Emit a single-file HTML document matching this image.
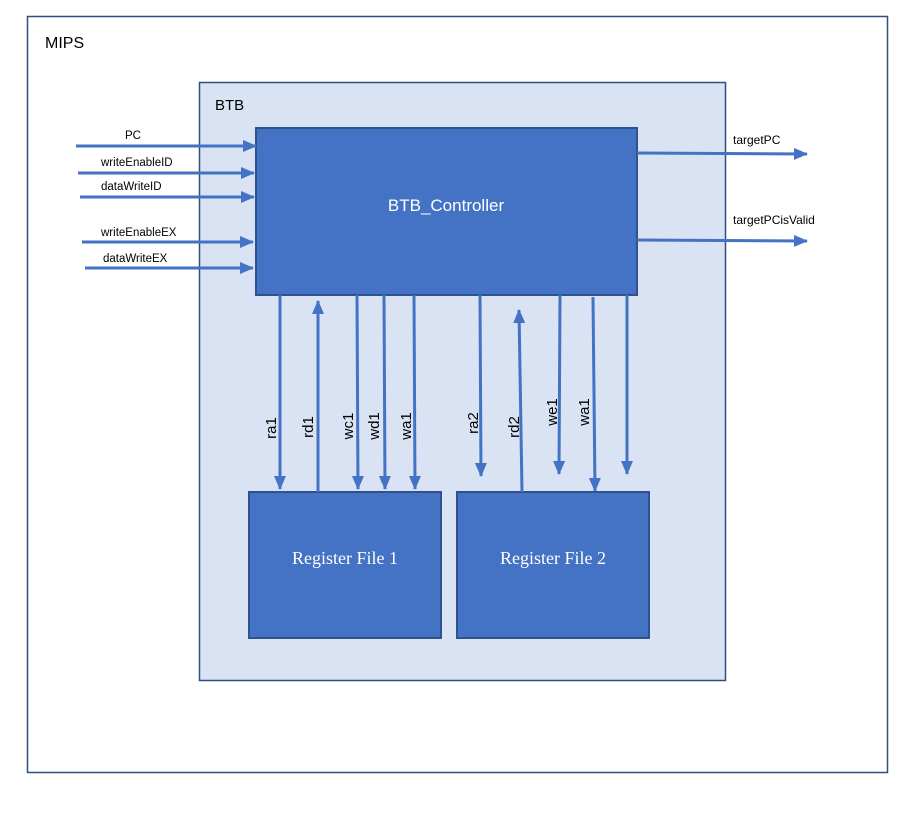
<!DOCTYPE html>
<html><head><style>body{margin:0;background:#fff}</style></head><body>
<svg width="906" height="809" xmlns="http://www.w3.org/2000/svg" font-family="Liberation Sans, sans-serif">
<defs><marker id="a" markerWidth="14" markerHeight="12" refX="13" refY="6" orient="auto" markerUnits="userSpaceOnUse"><path d="M0,0 L14,6 L0,12z" fill="#4472c4"/></marker></defs>
<rect x="27.5" y="16.5" width="860" height="756" fill="#fff" stroke="#2f4f7f" stroke-width="1.5"/>
<text x="45" y="48" font-size="16" fill="#000">MIPS</text>
<rect x="199.5" y="82.5" width="526" height="598" fill="#dae3f3" stroke="#2f4f7f" stroke-width="1.5"/>
<text x="215" y="110" font-size="15" fill="#000">BTB</text>
<rect x="256" y="128" width="381" height="167" fill="#4472c4" stroke="#2f528f" stroke-width="2"/>
<text x="446" y="211" font-size="17" fill="#fff" text-anchor="middle">BTB_Controller</text>
<rect x="249" y="492" width="192" height="146" fill="#4472c4" stroke="#2f528f" stroke-width="2"/>
<text x="345" y="564" font-size="18" fill="#fff" text-anchor="middle" font-family="Liberation Serif, serif">Register File 1</text>
<rect x="457" y="492" width="192" height="146" fill="#4472c4" stroke="#2f528f" stroke-width="2"/>
<text x="553" y="564" font-size="18" fill="#fff" text-anchor="middle" font-family="Liberation Serif, serif">Register File 2</text>
<g stroke="#4472c4" stroke-width="3" marker-end="url(#a)" fill="none">
<line x1="76" y1="146" x2="256" y2="146"/>
<line x1="78" y1="173" x2="254" y2="173"/>
<line x1="80" y1="197" x2="254" y2="197"/>
<line x1="82" y1="242" x2="253" y2="242"/>
<line x1="85" y1="268" x2="253" y2="268"/>
<line x1="637" y1="153" x2="807" y2="154"/>
<line x1="637" y1="240" x2="807" y2="241"/>
<line x1="280" y1="295" x2="280" y2="489"/>
<line x1="318" y1="492" x2="318" y2="301"/>
<line x1="357" y1="295" x2="358" y2="489"/>
<line x1="384" y1="295" x2="385" y2="489"/>
<line x1="414" y1="295" x2="415" y2="489"/>
<line x1="480" y1="295" x2="481" y2="476"/>
<line x1="522" y1="492" x2="519" y2="310"/>
<line x1="560" y1="295" x2="559" y2="474"/>
<line x1="593" y1="297" x2="595" y2="491"/>
<line x1="627" y1="295" x2="627" y2="474"/>
</g>
<g font-size="11.5" fill="#000">
<text x="125" y="139">PC</text>
<text x="101" y="166">writeEnableID</text>
<text x="101" y="190">dataWriteID</text>
<text x="101" y="236">writeEnableEX</text>
<text x="103" y="262">dataWriteEX</text>
<text x="733" y="144" font-size="12">targetPC</text>
<text x="733" y="224" font-size="12">targetPCisValid</text>
</g>
<g font-size="15" fill="#000" text-anchor="middle">
<text transform="translate(276,428) rotate(-90)">ra1</text>
<text transform="translate(313,427) rotate(-90)">rd1</text>
<text transform="translate(353,426) rotate(-90)">wc1</text>
<text transform="translate(379,426) rotate(-90)">wd1</text>
<text transform="translate(411,426) rotate(-90)">wa1</text>
<text transform="translate(478,423) rotate(-90)">ra2</text>
<text transform="translate(519,427) rotate(-90)">rd2</text>
<text transform="translate(557,412) rotate(-90)">we1</text>
<text transform="translate(589,412) rotate(-90)">wa1</text>
</g>
</svg>
</body></html>
